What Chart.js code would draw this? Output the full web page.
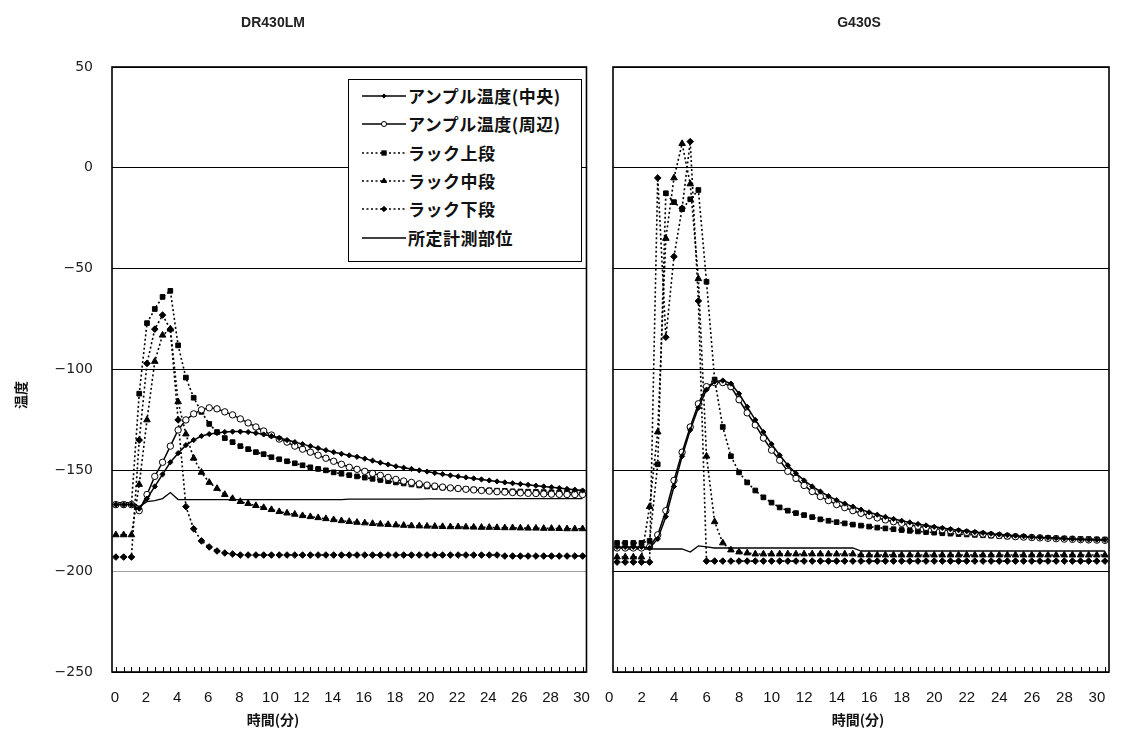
<!DOCTYPE html>
<html><head><meta charset="utf-8">
<script src="https://cdn.jsdelivr.net/npm/chart.js@4.4.1/dist/chart.umd.min.js"></script>
<style>
html,body{margin:0;padding:0;background:#fff;}
body{width:1123px;height:755px;overflow:hidden;position:relative;font-family:'Liberation Sans',Arial,sans-serif;color:#111;}
.abs{position:absolute;}
.ttl{font-family:'Liberation Sans',Arial,sans-serif;font-weight:bold;font-size:14px;transform:translate(-50%,-50%);white-space:nowrap;color:#222;}
.xt{font-family:'Noto Sans CJK JP',sans-serif;font-weight:bold;font-size:14px;transform:translate(-50%,-50%);white-space:nowrap;color:#111;}
#legend{left:348px;top:79px;width:234px;height:183px;border:1.5px solid #000;background:#fff;box-sizing:border-box;}
.lrow{position:absolute;left:0;height:28px;width:232px;}
.lrow svg{position:absolute;left:13px;top:8px;}
.lrow span{position:absolute;left:59px;top:0;line-height:28px;font-family:'Noto Sans CJK JP',sans-serif;font-weight:bold;font-size:17px;letter-spacing:0.5px;color:#111;white-space:nowrap;}
</style></head><body>
<canvas id="cL" class="abs" width="600" height="755" style="left:0;top:0"></canvas>
<canvas id="cR" class="abs" width="523" height="755" style="left:600px;top:0"></canvas>
<div class="abs ttl" style="left:273px;top:22px">DR430LM</div>
<div class="abs ttl" style="left:859px;top:22px">G430S</div>
<div class="abs xt" style="left:273px;top:719px">時間(分)</div>
<div class="abs xt" style="left:858px;top:719px">時間(分)</div>
<div class="abs xt" style="left:20px;top:395px;transform:translate(-50%,-50%) rotate(-90deg);font-size:14px;">温度</div>
<div id="legend" class="abs"></div>
<script>
// ---- categories (minutes) ----
const TIMES = [0,0.5,1,1.5,2,2.5,3,3.5,4,4.5,5,5.5,6,6.5,7,7.5,8,8.5,9,9.5,10,10.5,11,11.5,12,12.5,13,13.5,14,14.5,15,15.5,16,16.5,17,17.5,18,18.5,19,19.5,20,20.5,21,21.5,22,22.5,23,23.5,24,24.5,25,25.5,26,26.5,27,27.5,28,28.5,29,29.5,30];
const X_TICK_LABELS = ['0','2','4','6','8','10','12','14','16','18','20','22','24','26','28','30'];
const Y_TICKS = [50,0,-50,-100,-150,-200,-250];
const SERIES_NAMES = ['アンプル温度(中央)','アンプル温度(周辺)','ラック上段','ラック中段','ラック下段','所定計測部位'];
const PANEL_TITLES = ['DR430LM','G430S'];

// ---- DR430LM ----
const L_CENTER = [-167,-167,-167,-169,-164,-158,-152,-146,-141.5,-137.5,
 -135,-133,-132,-131.5,-131,-130.8,-130.8,-131,-131.5,-132.2,
 -133,-134,-135,-136,-137,-138,-139,-140,-141,-141.8,
 -142.6,-143.3,-144.2,-145.2,-146.2,-147.1,-148,-148.7,-149.3,-150,
 -150.6,-151.3,-151.9,-152.5,-153,-153.5,-154,-154.5,-155,-155.5,
 -156,-156.4,-156.8,-157.2,-157.6,-158,-158.4,-158.8,-159.2,-159.6,
 -160];
const L_EDGE = [-167,-167,-167,-170,-162,-153,-146,-138,-130,-125,
 -122,-120,-119,-119.5,-121,-122.5,-124.5,-126.5,-128.5,-130.5,
 -132.5,-134.5,-136,-138,-139.5,-141,-142.5,-144,-145.5,-147,
 -148.5,-149.5,-150.5,-151.5,-152.5,-153.5,-154.5,-155.3,-156,-156.7,
 -157.3,-157.8,-158.3,-158.7,-159,-159.4,-159.7,-160,-160.3,-160.6,
 -160.8,-161,-161.2,-161.4,-161.5,-161.7,-161.8,-161.9,-162,-162,
 -162];
const L_UPPER = [-167,-167,-167,-112,-77,-70,-64,-61,-88,-104,
 -114,-121,-127,-131,-134,-136,-138,-139.5,-141,-142,
 -143.5,-144.5,-145.5,-146.5,-147.5,-148.5,-149.3,-150,-151,-151.7,
 -152.4,-153,-153.6,-154.2,-154.8,-155.4,-156,-156.5,-157,-157.5,
 -158,-158.3,-158.6,-158.9,-159.1,-159.3,-159.5,-159.7,-159.9,-160.1,
 -160.2,-160.4,-160.5,-160.6,-160.7,-160.8,-160.9,-161,-161,-161,
 -161];
const L_MID = [-182,-182,-182,-157,-125,-96,-83,-80,-116,-132,
 -144,-151,-156,-159,-162,-164,-165.5,-166.5,-167.5,-168.5,
 -169.5,-170.5,-171.2,-171.8,-172.5,-173,-173.5,-174,-174.5,-175,
 -175.4,-175.8,-176.1,-176.4,-176.7,-176.9,-177.1,-177.3,-177.5,-177.6,
 -177.7,-177.8,-177.9,-178,-178,-178.1,-178.2,-178.3,-178.3,-178.4,
 -178.5,-178.5,-178.6,-178.7,-178.7,-178.8,-178.8,-178.9,-179,-179,
 -179];
const L_LOWER = [-193,-193,-193,-135,-97,-80,-73,-80,-125,-168,
 -179,-185,-188,-190,-191,-191.5,-192,-192,-192,-192,
 -192,-192,-192,-192,-192,-192,-192,-192,-192,-192,
 -192,-192,-192,-192,-192,-192,-192,-192,-192,-192,
 -192,-192,-192,-192,-192,-192,-192,-192,-192,-192,
 -192.5,-192.5,-192.5,-192.5,-192.5,-192.5,-192.5,-192.5,-192.5,-192.5,
 -192.5];
const L_REF = [-166,-166,-166,-168,-165.5,-165,-164,-161,-164.5,-164.5,
 -164.5,-164.5,-164.5,-164.5,-164.5,-164.5,-164.5,-164.5,-164.5,-164.5,
 -164.5,-164.5,-164.5,-164.5,-164.5,-164.5,-164.5,-164.5,-164.5,-164.5,
 -164.3,-164.3,-164.3,-164.3,-164.3,-164.3,-164.3,-164.3,-164.3,-164.3,
 -164.2,-164.2,-164.2,-164.2,-164.2,-164.2,-164.2,-164.2,-164.2,-164.2,
 -164,-164,-164,-164,-164,-164,-164,-164,-164,-164,
 -164];

// ---- G430S ----
const R_CENTER = [-188,-188,-188,-188,-188.5,-184,-173,-158,-143,-130,
 -119,-110,-106,-105.5,-107,-112,-118.5,-125,-131,-137,
 -142.5,-147.5,-151.5,-155,-158,-160.5,-162.8,-164.8,-166.5,-168,
 -169.5,-170.8,-172,-173.1,-174.1,-175,-175.8,-176.6,-177.3,-178,
 -178.6,-179.2,-179.7,-180.2,-180.6,-181,-181.4,-181.8,-182.1,-182.4,
 -182.7,-183,-183.2,-183.4,-183.6,-183.8,-184,-184.2,-184.3,-184.4,
 -184.5];
const R_EDGE = [-188.5,-188.5,-188.5,-188.5,-188,-182,-170,-155,-141,-128.5,
 -117,-108.5,-106.5,-106.5,-108.5,-115,-121.5,-127.5,-134,-140,
 -145,-150.5,-154,-157.5,-160.5,-163,-165,-167,-168.5,-170,
 -171.3,-172.5,-173.6,-174.6,-175.5,-176.3,-177,-177.7,-178.3,-178.9,
 -179.4,-179.9,-180.4,-180.8,-181.2,-181.6,-182,-182.3,-182.6,-182.9,
 -183.1,-183.3,-183.5,-183.7,-183.9,-184.1,-184.2,-184.4,-184.5,-184.6,
 -184.7];
const R_UPPER = [-186,-186,-186,-186,-185,-147,-12.6,-17,-20.5,-15.6,
 -11,-56.5,-105,-128.5,-143,-151,-156,-160,-163.4,-166,
 -168.4,-170,-171.2,-172.2,-173.2,-174.3,-175,-175.7,-176.3,-176.9,
 -177.4,-177.9,-178.4,-178.8,-179.2,-179.6,-180,-180.3,-180.6,-180.9,
 -181.2,-181.4,-181.6,-181.8,-182,-182.2,-182.4,-182.6,-182.8,-183,
 -183.1,-183.3,-183.4,-183.5,-183.7,-183.8,-183.9,-184,-184.1,-184.2,
 -184.3];
const R_MID = [-193,-193,-193,-193,-168,-131,-35,-5,12,-8,
 -55,-143,-175.5,-186,-189.5,-190.5,-191,-191.5,-191.5,-191.5,
 -191.5,-191.5,-191.5,-191.5,-191.5,-191.5,-191.5,-191.5,-191.5,-191.5,
 -192,-192,-192,-192,-192,-192,-192,-192,-192,-192,
 -192,-192,-192,-192,-192,-192,-192,-192,-192,-192,
 -192,-192,-192,-192,-192,-192,-192,-192,-192,-192,
 -192];
const R_LOWER = [-195.5,-195.5,-195.5,-195.5,-195.5,-5,-84,-44,-20,13,
 -66,-195,-195,-195,-195,-195,-195,-195,-195,-195,
 -195,-195,-195,-195,-195,-195,-195,-195,-195,-195,
 -195,-195,-195,-195,-195,-195,-195,-195,-195,-195,
 -195,-195,-195,-195,-195,-195,-195,-195,-195,-195,
 -195,-195,-195,-195,-195,-195,-195,-195,-195,-195,
 -195];
const R_REF = [-188,-189,-189,-189,-189,-189,-189,-189,-189,-190.5,
 -187.5,-188,-188.5,-188.5,-188.5,-188.5,-188.5,-188.5,-188.5,-188.5,
 -188.5,-188.5,-188.5,-188.5,-188.5,-188.5,-188.5,-188.5,-188.5,-188.5,
 -190,-190,-190,-190,-190,-190,-190,-190,-190,-190,
 -190,-190,-190,-190,-190,-190,-190,-190,-190,-190,
 -190,-190,-190,-190,-190,-190,-190,-190,-190,-190,
 -190];

// ---- styles ----
const STYLES = [
  {dash:[], width:1.5, point:'rectRot', r:2.6, fill:'#000'},
  {dash:[], width:1.5, point:'circle', r:3.2, fill:'#fff'},
  {dash:[2,2.5], width:1.6, point:'rect', r:3.3, fill:'#000'},
  {dash:[2,2.5], width:1.6, point:'triangle', r:3.8, fill:'#000'},
  {dash:[2,2.5], width:1.6, point:'rectRot', r:3.3, fill:'#000'},
  {dash:[], width:1.3, point:false, r:0, fill:'#000'}
];

function buildDatasets(arrs){
  return arrs.map((d,i)=>({
    label: SERIES_NAMES[i],
    data: d,
    borderColor:'#000',
    borderWidth: STYLES[i].width,
    borderDash: STYLES[i].dash,
    pointStyle: STYLES[i].point,
    pointRadius: STYLES[i].r,
    pointBackgroundColor: STYLES[i].fill,
    pointBorderColor:'#000',
    pointBorderWidth: 1,
    tension: 0,
    fill:false
  }));
}

const framePlugin = {
  id:'frame',
  afterDraw(chart){
    const {ctx, chartArea:a} = chart;
    const xs = chart.scales.x;
    ctx.save();
    ctx.strokeStyle = '#000';
    ctx.lineWidth = 1;
    ctx.beginPath();
    for(let i=0;i<xs.ticks.length;i++){
      const px = Math.round(xs.getPixelForTick(i))+0.5;
      ctx.moveTo(px, a.bottom); ctx.lineTo(px, a.bottom-5);
    }
    ctx.stroke();
    ctx.lineWidth = 1.6;
    ctx.strokeRect(a.left, a.top, a.right-a.left, a.bottom-a.top);
    ctx.restore();
  }
};

function makePanel(id, arrs, isLeft){
  return new Chart(document.getElementById(id), {
    type:'line',
    data:{labels: TIMES.map(String), datasets: buildDatasets(arrs)},
    plugins:[framePlugin],
    options:{
      responsive:false, animation:false,
      layout:{padding:{top:67, right: isLeft?8:14, bottom:43, left:0}},
      plugins:{legend:{display:false}, title:{display:false}, tooltip:{enabled:false}},
      scales:{
        x:{type:'category', offset:true,
           grid:{display:false}, border:{display:false},
           ticks:{autoSkip:false, maxRotation:0, minRotation:0, padding:9, color:'#111',
                  labelOffset: isLeft?-1:-8,
                  font:{family:"'Liberation Sans Narrow','Liberation Sans',sans-serif", size:15},
                  callback(v){ const l=this.getLabelForValue(v); return X_TICK_LABELS.includes(l)?l:''; }},
           afterFit(s){ s.height = 40; }},
        y:{min:Y_TICKS[Y_TICKS.length-1], max:Y_TICKS[0],
           afterBuildTicks(s){ s.ticks = Y_TICKS.map(v=>({value:v})); },
           ticks:{display:isLeft, padding:19, color:'#222',
                  font:{family:"'DejaVu Sans',sans-serif", size:14},
                  callback(v){ return v<0 ? '\u2212'+Math.abs(v) : String(v); }},
           grid:{drawTicks:false, lineWidth:1,
                 color:(c)=> (isLeft && c.tick && c.tick.value===-200) ? '#a0a0a0' : '#000'},
           border:{display:false},
           afterFit(s){ s.width = isLeft?112:13; }}
      }
    }
  });
}

makePanel('cL', [L_CENTER,L_EDGE,L_UPPER,L_MID,L_LOWER,L_REF], true);
makePanel('cR', [R_CENTER,R_EDGE,R_UPPER,R_MID,R_LOWER,R_REF], false);

// ---- HTML legend ----
const lg = document.getElementById('legend');
const SHAPES = {
  rectRot:(r,f)=>`<polygon points="22,${6-r} ${22+r},6 22,${6+r} ${22-r},6" fill="${f}" stroke="#000" stroke-width="1"/>`,
  circle:(r,f)=>`<circle cx="22" cy="6" r="${r}" fill="${f}" stroke="#000" stroke-width="1"/>`,
  rect:(r,f)=>`<rect x="${22-r*0.8}" y="${6-r*0.8}" width="${r*1.6}" height="${r*1.6}" fill="${f}" stroke="#000" stroke-width="1"/>`,
  triangle:(r,f)=>`<polygon points="22,${6-r} ${22+r*0.87},${6+r*0.5} ${22-r*0.87},${6+r*0.5}" fill="${f}" stroke="#000" stroke-width="1"/>`
};
SERIES_NAMES.forEach((name,i)=>{
  const s = STYLES[i];
  const row = document.createElement('div');
  row.className='lrow';
  row.style.top = (2 + i*28.3)+'px';
  const dash = s.dash.length ? `stroke-dasharray="${s.dash.join(',')}"` : '';
  const mk = s.point ? SHAPES[s.point](s.r*0.8, s.fill) : '';
  row.innerHTML = `<svg width="44" height="12"><line x1="0" y1="6" x2="44" y2="6" stroke="#000" stroke-width="${s.width}" ${dash}/>${mk}</svg><span>${name}</span>`;
  lg.appendChild(row);
});
</script>
</body></html>
